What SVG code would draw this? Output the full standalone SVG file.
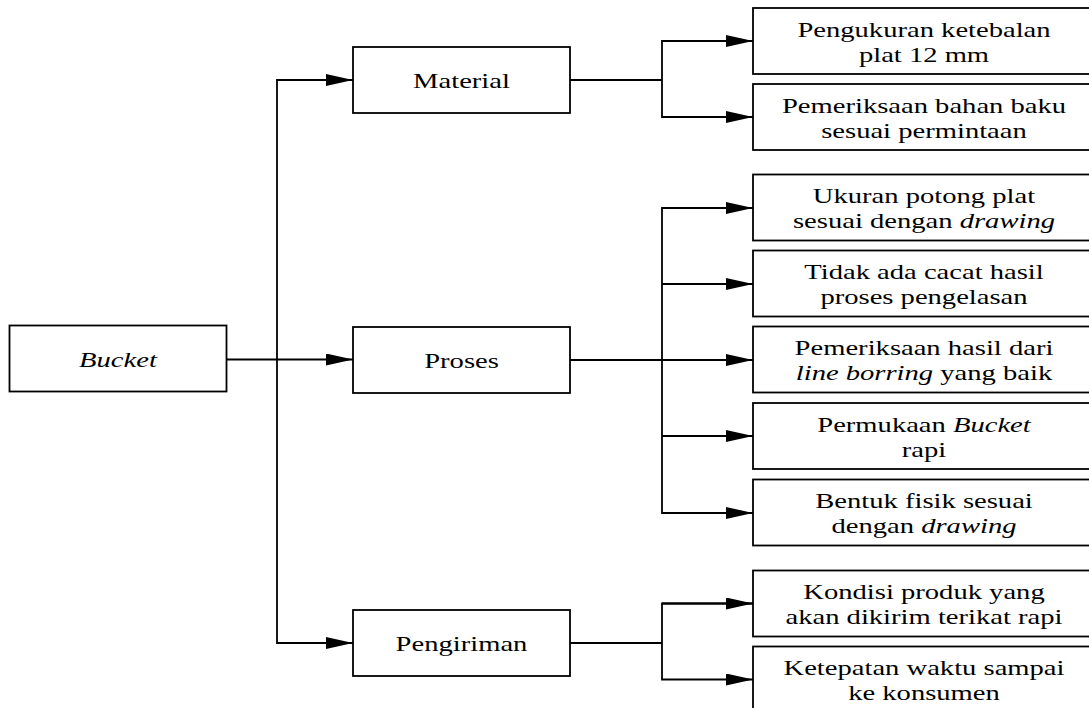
<svg xmlns="http://www.w3.org/2000/svg" width="1089" height="708" viewBox="0 0 1089 708">
  <defs>
    <style>
      .box { fill: #fff; stroke: #000; stroke-width: 1.8; }
      .wire { fill: none; stroke: #000; stroke-width: 1.8; }
      .lbl { font-family: "Liberation Serif", "Times New Roman", serif; font-size: 22px; fill: #000; text-anchor: middle; }
      .it { font-style: italic; }
    </style>
    <marker id="arrow" markerUnits="userSpaceOnUse" markerWidth="27" markerHeight="12" refX="27" refY="6" orient="auto">
      <path d="M0,0 L27,6 L0,12 Z" fill="#000"/>
    </marker>
  </defs>
  <rect width="1089" height="708" fill="#fff"/>

  <!-- connectors -->
  <g id="connectors" class="wire">
    <!-- root to level 1 -->
    <line x1="226.5" y1="359.5" x2="353" y2="359.5" marker-end="url(#arrow)"/>
    <polyline points="353,80 277,80 277,643 353,643" marker-end="url(#arrow)"/>
    <line x1="277" y1="80" x2="353" y2="80" marker-end="url(#arrow)"/>
    <!-- Material branch -->
    <line x1="570" y1="80" x2="662" y2="80"/>
    <polyline points="753,41 662,41 662,117 753,117" marker-end="url(#arrow)"/>
    <line x1="662" y1="41" x2="753" y2="41" marker-end="url(#arrow)"/>
    <!-- Proses branch -->
    <line x1="570" y1="360" x2="753" y2="360" marker-end="url(#arrow)"/>
    <polyline points="753,208 662,208 662,513 753,513" marker-end="url(#arrow)"/>
    <line x1="662" y1="208" x2="753" y2="208" marker-end="url(#arrow)"/>
    <line x1="662" y1="284" x2="753" y2="284" marker-end="url(#arrow)"/>
    <line x1="662" y1="436" x2="753" y2="436" marker-end="url(#arrow)"/>
    <!-- Pengiriman branch -->
    <line x1="570" y1="643" x2="662" y2="643"/>
    <polyline points="753,603.5 662,603.5 662,679.5 753,679.5" marker-end="url(#arrow)"/>
    <line x1="662" y1="603.5" x2="753" y2="603.5" marker-end="url(#arrow)"/>
  </g>

  <!-- root -->
  <g id="bucket">
    <rect class="box" x="9.5" y="325.5" width="217" height="66"/>
    <text class="lbl" transform="translate(118 366.5) scale(1.3 1)"><tspan class="it">Bucket</tspan></text>
  </g>

  <!-- level 1 -->
  <g id="material">
    <rect class="box" x="353" y="47" width="217" height="66"/>
    <text class="lbl" transform="translate(461.5 87.5) scale(1.3 1)">Material</text>
  </g>
  <g id="proses">
    <rect class="box" x="353" y="327" width="217" height="66"/>
    <text class="lbl" transform="translate(461.5 367.5) scale(1.3 1)">Proses</text>
  </g>
  <g id="pengiriman">
    <rect class="box" x="353" y="610" width="217" height="66"/>
    <text class="lbl" transform="translate(461.5 650.5) scale(1.3 1)">Pengiriman</text>
  </g>

  <!-- Material items -->
  <g id="m1">
    <rect class="box" x="753" y="8" width="342" height="66"/>
    <text class="lbl" transform="translate(924 36.5) scale(1.3 1)">Pengukuran ketebalan</text>
    <text class="lbl" transform="translate(924 61.5) scale(1.3 1)">plat 12 mm</text>
  </g>
  <g id="m2">
    <rect class="box" x="753" y="84" width="342" height="66"/>
    <text class="lbl" transform="translate(924 112.5) scale(1.3 1)">Pemeriksaan bahan baku</text>
    <text class="lbl" transform="translate(924 137.5) scale(1.3 1)">sesuai permintaan</text>
  </g>

  <!-- Proses items -->
  <g id="p1">
    <rect class="box" x="753" y="174.5" width="342" height="66"/>
    <text class="lbl" transform="translate(924 203) scale(1.3 1)">Ukuran potong plat</text>
    <text class="lbl" transform="translate(924 228) scale(1.3 1)">sesuai dengan <tspan class="it">drawing</tspan></text>
  </g>
  <g id="p2">
    <rect class="box" x="753" y="250.5" width="342" height="66"/>
    <text class="lbl" transform="translate(924 279) scale(1.3 1)">Tidak ada cacat hasil</text>
    <text class="lbl" transform="translate(924 304) scale(1.3 1)">proses pengelasan</text>
  </g>
  <g id="p3">
    <rect class="box" x="753" y="326.5" width="342" height="66"/>
    <text class="lbl" transform="translate(924 355) scale(1.3 1)">Pemeriksaan hasil dari</text>
    <text class="lbl" transform="translate(924 380) scale(1.3 1)"><tspan class="it">line borring</tspan> yang baik</text>
  </g>
  <g id="p4">
    <rect class="box" x="753" y="403" width="342" height="66"/>
    <text class="lbl" transform="translate(924 431.5) scale(1.3 1)">Permukaan <tspan class="it">Bucket</tspan></text>
    <text class="lbl" transform="translate(924 456.5) scale(1.3 1)">rapi</text>
  </g>
  <g id="p5">
    <rect class="box" x="753" y="479.5" width="342" height="66"/>
    <text class="lbl" transform="translate(924 508) scale(1.3 1)">Bentuk fisik sesuai</text>
    <text class="lbl" transform="translate(924 533) scale(1.3 1)">dengan <tspan class="it">drawing</tspan></text>
  </g>

  <!-- Pengiriman items -->
  <g id="k1">
    <rect class="box" x="753" y="570.5" width="342" height="66"/>
    <text class="lbl" transform="translate(924 599) scale(1.3 1)">Kondisi produk yang</text>
    <text class="lbl" transform="translate(924 624) scale(1.3 1)">akan dikirim terikat rapi</text>
  </g>
  <g id="k2">
    <rect class="box" x="753" y="646.5" width="342" height="66"/>
    <text class="lbl" transform="translate(924 675) scale(1.3 1)">Ketepatan waktu sampai</text>
    <text class="lbl" transform="translate(924 700) scale(1.3 1)">ke konsumen</text>
  </g>
</svg>
